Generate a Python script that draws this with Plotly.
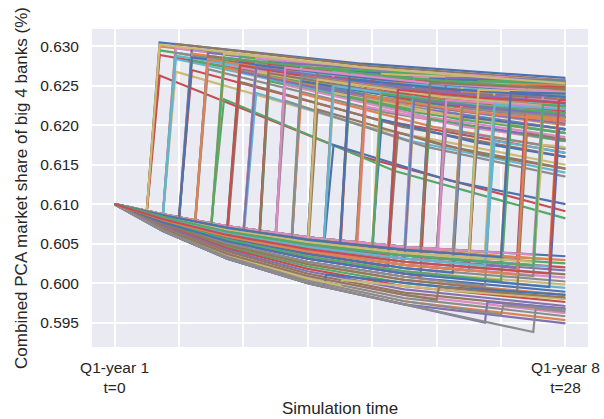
import plotly.graph_objects as go

# ---------------------------------------------------------------------------
# Simulated combined market share paths (quarterly simulation time, t = 0..28)
# ---------------------------------------------------------------------------

# Quarters at which the slow-decline (no-event) paths are sampled
knot_q = [0, 3, 7, 12, 18, 28]

# Paths without an upward jump: share at each quarter in knot_q
lower_paths = [
    [0.6100, 0.6087, 0.6072, 0.6058, 0.6046, 0.6034],
    [0.6100, 0.6086, 0.6070, 0.6055, 0.6042, 0.6029],
    [0.6100, 0.6085, 0.6068, 0.6052, 0.6038, 0.6025],
    [0.6100, 0.6084, 0.6065, 0.6049, 0.6035, 0.6020],
    [0.6100, 0.6083, 0.6063, 0.6046, 0.6031, 0.6016],
    [0.6100, 0.6081, 0.6061, 0.6043, 0.6027, 0.6011],
    [0.6100, 0.6080, 0.6059, 0.6040, 0.6023, 0.6007],
    [0.6100, 0.6079, 0.6057, 0.6037, 0.6019, 0.6002],
    [0.6100, 0.6078, 0.6055, 0.6034, 0.6015, 0.5998],
    [0.6100, 0.6077, 0.6053, 0.6031, 0.6012, 0.5994],
    [0.6100, 0.6076, 0.6050, 0.6027, 0.6008, 0.5989],
    [0.6100, 0.6075, 0.6048, 0.6024, 0.6004, 0.5985],
    [0.6100, 0.6074, 0.6046, 0.6021, 0.6000, 0.5980],
    [0.6100, 0.6073, 0.6044, 0.6018, 0.5996, 0.5976],
    [0.6100, 0.6072, 0.6042, 0.6015, 0.5992, 0.5971],
    [0.6100, 0.6070, 0.6040, 0.6012, 0.5988, 0.5967],
    [0.6100, 0.6069, 0.6037, 0.6009, 0.5985, 0.5962],
    [0.6100, 0.6068, 0.6035, 0.6006, 0.5981, 0.5958],
    [0.6100, 0.6067, 0.6033, 0.6003, 0.5977, 0.5953],
    [0.6100, 0.6066, 0.6031, 0.6000, 0.5973, 0.5949],
]

# Paths with a jump: quarter the jump starts, its duration, the no-jump path
# followed before it, share just before / just after the jump, share midway
# between the jump and t=28, and the share at t=28.
jump_q = [
    2, 2, 2, 2, 2, 3, 3, 3, 3, 3, 4, 4, 4, 4, 5, 5, 5, 5, 6, 6, 6, 6,
    7, 7, 7, 7, 8, 8, 8, 8, 9, 9, 9, 9, 10, 10, 10, 10, 11, 11, 11, 11,
    12, 12, 12, 12, 13, 13, 13, 13, 14, 14, 14, 14, 15, 15, 15, 15,
    16, 16, 16, 16, 17, 17, 17, 17, 18, 18, 18, 18, 19, 19, 19, 19,
    20, 20, 20, 20, 21, 21, 21, 21, 22, 22, 22, 22, 23, 23, 23, 23,
    24, 24, 24, 25, 25, 25, 26, 26, 26, 27, 27, 27,
    13, 23, 14, 20, 26, 24,
    2, 3, 4, 5, 6, 7, 8, 9, 10, 11, 12, 13, 14, 15, 16, 17, 18, 19,
    20, 21, 22, 23, 24, 25, 26, 27,
]
jump_len = [0.8] * 30 + [0.6] * 72 + [0.15] * 6 + [0.8] * 7 + [0.6] * 19
base_path = [
    0, 1, 2, 0, 3, 1, 0, 2, 4, 1, 0, 2, 3, 1, 4, 0, 5, 2, 1, 3, 0, 2,
    0, 4, 2, 6, 1, 3, 0, 5, 2, 0, 4, 1, 3, 1, 6, 0, 0, 2, 5, 3,
    1, 4, 0, 7, 2, 0, 5, 3, 1, 6, 0, 4, 3, 0, 8, 2,
    0, 5, 1, 3, 2, 7, 0, 4, 1, 3, 6, 0, 0, 5, 2, 9,
    3, 1, 8, 0, 4, 0, 7, 2, 1, 6, 0, 3, 2, 10, 0, 5,
    3, 0, 8, 1, 4, 11, 0, 6, 2, 3, 9, 1,
    19, 19, 17, 16, 19, 18,
    1, 3, 4, 1, 4, 1, 2, 3, 2, 1, 3, 1, 2, 5, 2, 3, 4, 1,
    5, 3, 2, 4, 1, 6, 3, 5,
]
pre_jump = [
    0.6091, 0.6091, 0.6090, 0.6091, 0.6089, 0.6086, 0.6087, 0.6085, 0.6083, 0.6086,
    0.6084, 0.6081, 0.6079, 0.6082, 0.6073, 0.6079, 0.6071, 0.6076,
    0.6073, 0.6069, 0.6075, 0.6071, 0.6072, 0.6063, 0.6068, 0.6059,
    0.6065, 0.6061, 0.6068, 0.6056, 0.6060, 0.6065, 0.6055, 0.6063,
    0.6054, 0.6060, 0.6046, 0.6062, 0.6060, 0.6054, 0.6046, 0.6051,
    0.6055, 0.6046, 0.6058, 0.6037, 0.6049, 0.6055, 0.6039, 0.6045,
    0.6049, 0.6033, 0.6053, 0.6040, 0.6040, 0.6051, 0.6023, 0.6044,
    0.6049, 0.6031, 0.6046, 0.6039, 0.6040, 0.6021, 0.6047, 0.6033,
    0.6042, 0.6035, 0.6023, 0.6046, 0.6044, 0.6025, 0.6036, 0.6009,
    0.6031, 0.6039, 0.6011, 0.6043, 0.6026, 0.6042, 0.6013, 0.6034,
    0.6037, 0.6016, 0.6041, 0.6028, 0.6030, 0.5996, 0.6039, 0.6018,
    0.6025, 0.6038, 0.6003, 0.6032, 0.6019, 0.5989, 0.6036, 0.6009, 0.6027,
    0.6021, 0.5995, 0.6030,
    0.5995, 0.5950, 0.5997, 0.5979, 0.5938, 0.5960,
    0.6091, 0.6084, 0.6078, 0.6078, 0.6067, 0.6070, 0.6063, 0.6058, 0.6057,
    0.6057, 0.6049, 0.6052, 0.6046, 0.6033, 0.6042, 0.6036, 0.6031, 0.6040,
    0.6023, 0.6030, 0.6032, 0.6022, 0.6033, 0.6011, 0.6022, 0.6012,
]
post_jump = [
    0.6305, 0.6300, 0.6295, 0.6289, 0.6263, 0.6303, 0.6298, 0.6292, 0.6268, 0.6284,
    0.6297, 0.6291, 0.6282, 0.6270, 0.6292, 0.6288, 0.6281, 0.6271,
    0.6291, 0.6281, 0.6233, 0.6273, 0.6287, 0.6280, 0.6268, 0.6255,
    0.6285, 0.6278, 0.6268, 0.6241, 0.6280, 0.6272, 0.6256, 0.6278,
    0.6279, 0.6266, 0.6251, 0.6231, 0.6275, 0.6268, 0.6256, 0.6240,
    0.6273, 0.6263, 0.6249, 0.6220, 0.6268, 0.6258, 0.6241, 0.6175,
    0.6268, 0.6253, 0.6236, 0.6263, 0.6265, 0.6255, 0.6224, 0.6244,
    0.6265, 0.6247, 0.6207, 0.6257, 0.6261, 0.6236, 0.6251, 0.6191,
    0.6261, 0.6242, 0.6219, 0.6252, 0.6259, 0.6235, 0.6208, 0.6247,
    0.6260, 0.6242, 0.6222, 0.6194, 0.6252, 0.6231, 0.6211, 0.6243,
    0.6256, 0.6235, 0.6198, 0.6220, 0.6236, 0.6215, 0.6248, 0.6180,
    0.6230, 0.6252, 0.6200, 0.6249, 0.6225, 0.6190, 0.6238, 0.6210, 0.6175,
    0.6220, 0.6195, 0.6245,
    0.6011, 0.5976, 0.6004, 0.5995, 0.5968, 0.5972,
    0.6302, 0.6288, 0.6286, 0.6284, 0.6286, 0.6276, 0.6274, 0.6266, 0.6273,
    0.6262, 0.6258, 0.6250, 0.6258, 0.6238, 0.6240, 0.6245, 0.6232, 0.6254,
    0.6232, 0.6222, 0.6245, 0.6226, 0.6242, 0.6212, 0.6226, 0.6232,
]
post_mid = [
    0.6278, 0.6269, 0.6256, 0.6245, 0.6160, 0.6275, 0.6264, 0.6249, 0.6197, 0.6231,
    0.6270, 0.6257, 0.6236, 0.6207, 0.6267, 0.6258, 0.6240, 0.6216,
    0.6269, 0.6247, 0.6142, 0.6229, 0.6266, 0.6251, 0.6224, 0.6198,
    0.6268, 0.6255, 0.6233, 0.6180, 0.6262, 0.6247, 0.6216, 0.6258,
    0.6265, 0.6241, 0.6211, 0.6173, 0.6262, 0.6250, 0.6228, 0.6198,
    0.6263, 0.6246, 0.6221, 0.6175, 0.6257, 0.6241, 0.6213, 0.6130,
    0.6260, 0.6236, 0.6208, 0.6252, 0.6258, 0.6242, 0.6198, 0.6227,
    0.6260, 0.6234, 0.6179, 0.6248, 0.6256, 0.6220, 0.6241, 0.6163,
    0.6258, 0.6233, 0.6205, 0.6246, 0.6257, 0.6227, 0.6194, 0.6242,
    0.6259, 0.6237, 0.6214, 0.6182, 0.6250, 0.6226, 0.6203, 0.6240,
    0.6256, 0.6232, 0.6190, 0.6215, 0.6233, 0.6210, 0.6247, 0.6173,
    0.6228, 0.6251, 0.6195, 0.6249, 0.6223, 0.6186, 0.6237, 0.6209, 0.6174,
    0.6220, 0.6195, 0.6245,
    0.5995, 0.5972, 0.5990, 0.5988, 0.5966, 0.5969,
    0.6273, 0.6250, 0.6258, 0.6247, 0.6261, 0.6241, 0.6246, 0.6235, 0.6254,
    0.6238, 0.6236, 0.6229, 0.6245, 0.6218, 0.6225, 0.6235, 0.6222, 0.6250,
    0.6227, 0.6216, 0.6243, 0.6223, 0.6241, 0.6210, 0.6225, 0.6232,
]
end_val = [
    0.6260, 0.6248, 0.6230, 0.6215, 0.6091, 0.6257, 0.6242, 0.6220, 0.6150, 0.6195,
    0.6252, 0.6235, 0.6205, 0.6165, 0.6250, 0.6238, 0.6212, 0.6180,
    0.6254, 0.6225, 0.6082, 0.6200, 0.6252, 0.6232, 0.6195, 0.6160,
    0.6256, 0.6240, 0.6210, 0.6140, 0.6250, 0.6230, 0.6190, 0.6245,
    0.6255, 0.6225, 0.6185, 0.6135, 0.6254, 0.6238, 0.6210, 0.6170,
    0.6256, 0.6235, 0.6202, 0.6145, 0.6250, 0.6230, 0.6195, 0.6100,
    0.6254, 0.6225, 0.6190, 0.6244, 0.6253, 0.6234, 0.6180, 0.6215,
    0.6257, 0.6225, 0.6160, 0.6242, 0.6252, 0.6210, 0.6235, 0.6145,
    0.6255, 0.6225, 0.6190, 0.6240, 0.6254, 0.6218, 0.6180, 0.6236,
    0.6257, 0.6232, 0.6205, 0.6170, 0.6248, 0.6220, 0.6195, 0.6236,
    0.6255, 0.6228, 0.6182, 0.6210, 0.6230, 0.6205, 0.6245, 0.6165,
    0.6225, 0.6250, 0.6190, 0.6248, 0.6220, 0.6182, 0.6236, 0.6207, 0.6172,
    0.6219, 0.6194, 0.6245,
    0.5985, 0.5968, 0.5980, 0.5982, 0.5964, 0.5966,
    0.6253, 0.6225, 0.6240, 0.6222, 0.6245, 0.6218, 0.6228, 0.6215, 0.6242,
    0.6222, 0.6222, 0.6215, 0.6236, 0.6205, 0.6215, 0.6228, 0.6212, 0.6246,
    0.6222, 0.6210, 0.6240, 0.6220, 0.6240, 0.6208, 0.6224, 0.6232,
]

end_q = 28
x_tick_vals = [0, 4, 8, 12, 16, 20, 24, 28]
x_tick_text = ["Q1-year 1<br>t=0", "", "", "", "", "", "", "Q1-year 8<br>t=28"]
y_tick_vals = [0.595, 0.600, 0.605, 0.610, 0.615, 0.620, 0.625, 0.630]

# seaborn "deep" colour cycle
palette = ["#4C72B0", "#DD8452", "#55A868", "#C44E52", "#8172B3",
           "#937860", "#DA8BC3", "#8C8C8C", "#CCB974", "#64B5CD"]
lower_colour = {18: 1, 19: 4}
jump_colour = {4: 3, 20: 2, 49: 0, 102: 0, 103: 4, 104: 8, 106: 7}

fig = go.Figure()
line_w = 2.2

for i, vals in enumerate(lower_paths):
    c = palette[lower_colour.get(i, i % 10)]
    fig.add_trace(go.Scatter(x=knot_q, y=vals, mode="lines",
                             line=dict(color=c, width=line_w),
                             hoverinfo="skip", showlegend=False))

n_lower = len(lower_paths)
for j, k in enumerate(jump_q):
    base = lower_paths[base_path[j]]
    xs = [q for q in knot_q if q < k]
    ys = base[:len(xs)]
    land = k + jump_len[j]
    xs = xs + [k, land, (land + end_q) / 2, end_q]
    ys = ys + [pre_jump[j], post_jump[j], post_mid[j], end_val[j]]
    c = palette[jump_colour.get(j, (n_lower + j) % 10)]
    fig.add_trace(go.Scatter(x=xs, y=ys, mode="lines",
                             line=dict(color=c, width=line_w),
                             hoverinfo="skip", showlegend=False))

font_family = "Liberation Sans, Arial, sans-serif"
fig.update_layout(
    width=604, height=419,
    margin=dict(l=92, r=16, t=29, b=72),
    plot_bgcolor="#EAEAF2", paper_bgcolor="white",
    font=dict(family=font_family, color="#262626"),
    showlegend=False,
)
fig.update_xaxes(
    range=[-1.4, 29.4], tickmode="array",
    tickvals=x_tick_vals, ticktext=x_tick_text,
    showgrid=True, gridcolor="white", gridwidth=1.5,
    zeroline=False, showline=False, ticks="", automargin=False,
    tickfont=dict(size=15.5, color="#262626"),
    ticklabelstandoff=9,
    title=dict(text="Simulation time", font=dict(size=17, color="#262626"), standoff=7),
)
fig.update_yaxes(
    range=[0.5919, 0.6322], tickmode="array",
    tickvals=y_tick_vals, tickformat=".3f",
    showgrid=True, gridcolor="white", gridwidth=1.5,
    zeroline=False, showline=False, ticks="", automargin=False,
    tickfont=dict(size=15.5, color="#262626"),
    ticklabelstandoff=12,
    title=dict(text="Combined PCA market share of big 4 banks (%)",
               font=dict(size=17, color="#262626"), standoff=8),
)

fig.write_html("out.html")
